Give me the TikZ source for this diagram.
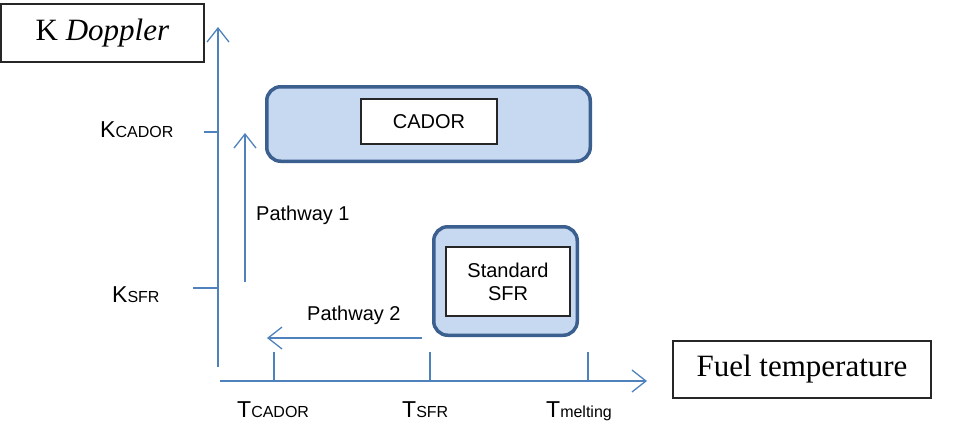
\documentclass[tikz,border=0pt]{standalone}
\usepackage{fontspec}
\setsansfont{Liberation Sans}
\newfontfamily\titlefont{Liberation Serif}
\usetikzlibrary{arrows.meta}
\definecolor{axisblue}{HTML}{4F81BD}
\definecolor{boxline}{HTML}{3B5F8E}
\definecolor{boxfill}{HTML}{C6D9F1}
\newcommand\axlabel[2]{{\fontsize{23}{23}\selectfont #1}{\fontsize{16}{16}\selectfont #2}}
\begin{document}
\begin{tikzpicture}[x=1pt,y=-1pt,
  axis/.style={draw=axisblue, line width=1.3pt},
  arr/.style={axis, -{Straight Barb[length=14pt,width=22pt]}},
  outerbox/.style={draw=boxline, line width=3.5pt, fill=boxfill, rounded corners=14pt, inner sep=0pt},
  innerbox/.style={draw=black!85, line width=1.1pt, fill=white, inner sep=0pt, align=center, font=\sffamily\fontsize{20}{23}\selectfont},
  titlebox/.style={draw=black!85, line width=1.2pt, fill=white, inner sep=0pt, font=\titlefont\fontsize{31}{34}\selectfont},
  lab/.style={anchor=base west, inner sep=0pt, font=\sffamily},
  pathlab/.style={anchor=base west, inner sep=0pt, font=\sffamily\fontsize{20}{20}\selectfont}]
\useasboundingbox (0,0) rectangle (979,424);
% title boxes
\node[titlebox, minimum width=203pt, minimum height=58pt] (kd) at (102.5,33) {K \textit{Doppler}};
\node[titlebox, minimum width=258pt, minimum height=57pt] (ft) at (802,369.5) {Fuel temperature};
% axes
\coordinate (yb) at (218,367);
\coordinate (yt) at (218,27);
\coordinate (xl) at (220,381);
\coordinate (xr) at (647,381);
\draw[arr] (yb) -- (yt);
\draw[arr] (xl) -- (xr);
% ticks
\coordinate (kc1) at (204,132); \coordinate (kc2) at (218,132);
\coordinate (ks1) at (193,288); \coordinate (ks2) at (218,288);
\draw[axis] (kc1) -- (kc2);
\draw[axis] (ks1) -- (ks2);
\coordinate (tc1) at (274,352); \coordinate (tc2) at (274,381);
\coordinate (ts1) at (430,352); \coordinate (ts2) at (430,381);
\coordinate (tm1) at (588,352); \coordinate (tm2) at (588,381);
\draw[axis] (tc1) -- (tc2);
\draw[axis] (ts1) -- (ts2);
\draw[axis] (tm1) -- (tm2);
% axis labels
\node[lab] (lkc) at (100,137) {\axlabel{K}{CADOR}};
\node[lab] (lks) at (112,302) {\axlabel{K}{SFR}};
\node[lab] (ltc) at (237,417) {\axlabel{T}{CADOR}};
\node[lab] (lts) at (402,417) {\axlabel{T}{SFR}};
\node[lab] (ltm) at (546,417) {\axlabel{T}{melting}};
% boxes
\node[outerbox, minimum width=323.5pt, minimum height=74.5pt] (cadorout) at (428.5,124) {};
\node[innerbox, minimum width=136pt, minimum height=45pt] (cadorin) at (429,121.5) {CADOR};
\node[outerbox, minimum width=143.5pt, minimum height=108.5pt] (sfrout) at (505.5,281) {};
\node[innerbox, minimum width=124pt, minimum height=69pt] (sfrin) at (508,281.5) {Standard\\SFR};
% pathways
\coordinate (p1b) at (245,282);
\coordinate (p1t) at (245,133);
\draw[arr] (p1b) -- (p1t);
\node[pathlab] (lp1) at (256,220) {Pathway 1};
\coordinate (p2r) at (422,338);
\coordinate (p2l) at (267,338);
\draw[arr] (p2r) -- (p2l);
\node[pathlab] (lp2) at (307,320) {Pathway 2};
\end{tikzpicture}
\end{document}
